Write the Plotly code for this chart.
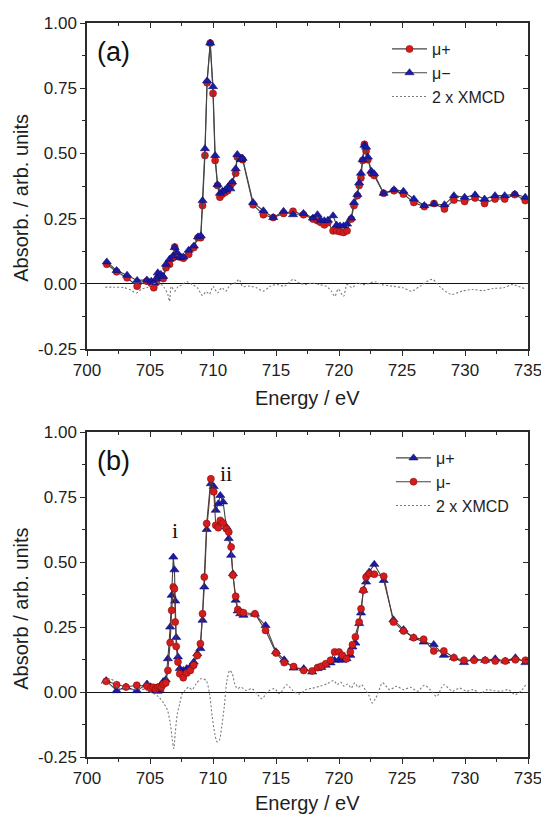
import plotly.graph_objects as go

# ---------------- Panel (a) ----------------
energy_a = [
    701.57, 702.35, 703.18, 703.98, 704.75, 705.10, 705.30, 705.50, 705.62, 705.86,
    706.05, 706.27, 706.55, 706.82, 706.96, 707.15, 707.38, 707.65, 708.07, 708.48,
    708.81, 709.03, 709.17, 709.36, 709.53, 709.78, 710.00, 710.17, 710.36, 710.55,
    710.75, 710.97, 711.16, 711.38, 711.52, 711.80, 711.93, 712.21, 712.35, 713.18,
    714.00, 714.78, 715.60, 716.35, 717.18, 717.93, 718.29, 718.56, 718.84, 719.12,
    719.53, 719.81, 720.08, 720.36, 720.64, 720.97, 721.19, 721.46, 721.60, 721.74,
    721.88, 722.02, 722.15, 722.29, 722.57, 722.79, 723.54, 724.36, 725.11, 725.94,
    726.77, 727.54, 728.37, 729.12, 729.97, 730.80, 731.55, 732.38, 733.15, 733.95,
    734.78,
]
mu_plus_a = [
    0.075, 0.046, 0.023, -0.009, 0.010, 0.002, -0.015, 0.005, 0.023, 0.030,
    0.020, 0.062, 0.075, 0.100, 0.141, 0.107, 0.103, 0.098, 0.113, 0.139,
    0.177, 0.177, 0.300, 0.492, 0.771, 0.923, 0.730, 0.473, 0.377, 0.332,
    0.344, 0.351, 0.357, 0.377, 0.386, 0.424, 0.486, 0.483, 0.476, 0.303,
    0.265, 0.254, 0.270, 0.278, 0.265, 0.248, 0.242, 0.235, 0.226, 0.235,
    0.203, 0.203, 0.200, 0.197, 0.203, 0.248, 0.300, 0.338, 0.377, 0.406,
    0.473, 0.535, 0.509, 0.476, 0.424, 0.415, 0.347, 0.357, 0.344, 0.312,
    0.296, 0.308, 0.287, 0.321, 0.316, 0.329, 0.308, 0.325, 0.325, 0.342,
    0.319,
]
mu_minus_a = [
    0.084, 0.051, 0.033, 0.013, 0.015, 0.010, 0.005, 0.020, 0.042, 0.036,
    0.028, 0.075, 0.094, 0.107, 0.139, 0.120, 0.100, 0.103, 0.129, 0.145,
    0.180, 0.184, 0.319, 0.518, 0.778, 0.923, 0.756, 0.492, 0.380, 0.347,
    0.355, 0.360, 0.370, 0.364, 0.390, 0.441, 0.496, 0.476, 0.481, 0.312,
    0.280, 0.254, 0.278, 0.265, 0.270, 0.252, 0.265, 0.244, 0.242, 0.244,
    0.261, 0.225, 0.222, 0.222, 0.229, 0.252, 0.312, 0.342, 0.387, 0.424,
    0.476, 0.531, 0.524, 0.486, 0.432, 0.422, 0.347, 0.361, 0.355, 0.325,
    0.300, 0.306, 0.303, 0.338, 0.332, 0.341, 0.325, 0.338, 0.338, 0.344,
    0.332,
]
xmcd_energy_a = [
    701.44, 702.13, 702.96, 703.51, 703.92, 704.34, 704.75, 705.17, 705.72, 706.13,
    706.41, 706.55, 706.69, 706.96, 707.24, 707.51, 707.93, 708.34, 708.76, 709.17,
    709.45, 709.72, 710.00, 710.36, 710.69, 711.02, 711.38, 711.80, 712.07, 712.35,
    712.90, 713.45, 714.00, 714.56, 715.11, 715.66, 716.35, 716.82, 717.32, 717.87,
    718.43, 718.98, 719.39, 719.67, 719.94, 720.36, 720.64, 721.05, 721.46, 721.88,
    722.29, 722.85, 723.40, 724.23, 725.06, 725.75, 726.44, 727.40, 728.09, 728.92,
    729.75, 730.58, 731.41, 732.24, 733.07, 733.76, 734.17, 734.72,
]
xmcd_a = [
    -0.013, -0.013, -0.015, -0.025, -0.035, -0.020, -0.015, -0.003, 0.004, -0.015,
    -0.040, -0.067, -0.010, -0.028, -0.010, -0.005, 0.008, -0.003, -0.015, -0.045,
    -0.030, -0.040, -0.010, -0.035, -0.015, -0.028, -0.003, 0.004, 0.017, -0.010,
    -0.009, -0.015, -0.028, -0.009, -0.003, -0.009, 0.017, 0.004, -0.003, 0.003,
    -0.003, -0.009, -0.028, -0.048, -0.020, -0.048, -0.003, -0.015, 0.004, -0.003,
    0.000, 0.008, -0.003, -0.009, -0.015, -0.028, -0.009, 0.017, -0.015, -0.041,
    -0.028, -0.022, -0.026, -0.018, -0.015, -0.003, -0.009, -0.018,
]

# ---------------- Panel (b) ----------------
energy_b = [
    701.52, 702.35, 703.10, 703.95, 704.76, 705.05, 705.25, 705.45, 705.60, 705.75,
    705.90, 706.05, 706.25, 706.42, 706.60, 706.72, 706.85, 706.94, 707.00, 707.08,
    707.22, 707.36, 707.64, 707.92, 708.20, 708.47, 708.75, 709.00, 709.17, 709.31,
    709.50, 709.83, 710.06, 710.22, 710.42, 710.58, 710.80, 711.06, 711.25, 711.44,
    711.58, 711.80, 711.97, 712.17, 712.42, 713.33, 714.17, 715.00, 715.65, 716.40,
    717.20, 717.87, 718.30, 718.60, 718.95, 719.33, 719.65, 720.00, 720.27, 720.60,
    720.90, 721.07, 721.30, 721.60, 721.75, 721.93, 722.15, 722.40, 722.80, 723.55,
    724.32, 725.12, 725.92, 726.72, 727.52, 728.32, 729.12, 729.92, 730.72, 731.60,
    732.40, 733.20, 734.00, 734.80,
]
mu_plus_b = [
    0.044, 0.005, 0.019, 0.005, 0.031, 0.020, 0.009, 0.005, 0.003, 0.010,
    0.028, 0.040, 0.047, 0.128, 0.250, 0.372, 0.519, 0.470, 0.350, 0.210,
    0.135, 0.090, 0.083, 0.090, 0.096, 0.115, 0.147, 0.167, 0.276, 0.404,
    0.625, 0.801, 0.790, 0.699, 0.724, 0.756, 0.731, 0.635, 0.590, 0.526,
    0.455, 0.353, 0.312, 0.301, 0.295, 0.299, 0.256, 0.155, 0.124, 0.092,
    0.090, 0.077, 0.090, 0.094, 0.103, 0.112, 0.122, 0.124, 0.122, 0.128,
    0.141, 0.173, 0.188, 0.263, 0.304, 0.391, 0.423, 0.462, 0.491, 0.429,
    0.278, 0.240, 0.209, 0.192, 0.183, 0.141, 0.132, 0.113, 0.128, 0.122,
    0.128, 0.119, 0.132, 0.113,
]
mu_minus_b = [
    0.041, 0.028, 0.019, 0.026, 0.022, 0.015, 0.018, 0.012, 0.018, 0.020,
    0.018, 0.030, 0.035, 0.083, 0.190, 0.314, 0.404, 0.397, 0.269, 0.175,
    0.115, 0.070, 0.055, 0.073, 0.083, 0.103, 0.140, 0.186, 0.301, 0.442,
    0.648, 0.820, 0.770, 0.641, 0.632, 0.660, 0.650, 0.628, 0.615, 0.558,
    0.449, 0.368, 0.317, 0.308, 0.305, 0.301, 0.237, 0.150, 0.113, 0.098,
    0.083, 0.081, 0.094, 0.099, 0.109, 0.122, 0.154, 0.154, 0.141, 0.128,
    0.154, 0.182, 0.212, 0.269, 0.320, 0.391, 0.442, 0.455, 0.453, 0.445,
    0.269, 0.235, 0.209, 0.203, 0.158, 0.158, 0.132, 0.122, 0.122, 0.122,
    0.119, 0.119, 0.124, 0.122,
]
xmcd_energy_b = [
    701.11, 701.81, 702.22, 702.50, 703.06, 703.61, 704.17, 704.72, 705.28, 705.69,
    706.11, 706.39, 706.61, 706.78, 706.89, 707.00, 707.17, 707.36, 707.56, 707.78,
    708.06, 708.33, 708.67, 709.03, 709.44, 709.72, 709.94, 710.14, 710.33, 710.50,
    710.69, 710.89, 711.11, 711.33, 711.53, 711.72, 711.94, 712.22, 712.64, 713.06,
    713.47, 713.89, 714.31, 714.86, 715.28, 715.85, 716.26, 716.81, 717.37, 717.92,
    718.48, 719.03, 719.58, 719.86, 720.14, 720.42, 720.69, 720.97, 721.25, 721.52,
    721.80, 722.08, 722.35, 722.63, 722.85, 723.05, 723.46, 724.02, 724.57, 725.12,
    725.68, 726.23, 726.79, 727.34, 727.76, 728.31, 729.00, 729.56, 730.11, 730.66,
    731.22, 731.77, 732.33, 732.88, 733.43, 733.99, 734.54, 734.82,
]
xmcd_b = [
    0.032, 0.051, 0.038, 0.013, 0.017, 0.009, 0.013, 0.006, -0.006, -0.019,
    -0.045, -0.070, -0.122, -0.186, -0.218, -0.160, -0.083, -0.045, -0.006, 0.006,
    0.019, 0.009, 0.032, 0.051, 0.045, -0.006, -0.096, -0.160, -0.192, -0.186,
    -0.135, -0.058, 0.045, 0.083, 0.071, 0.032, 0.013, 0.019, 0.006, 0.013,
    -0.006, -0.026, 0.000, 0.013, -0.006, 0.028, 0.009, -0.008, 0.009, 0.015,
    0.022, 0.031, 0.044, 0.028, 0.038, 0.022, 0.031, 0.015, 0.035, 0.018,
    0.028, 0.009, -0.010, -0.042, -0.029, -0.010, 0.035, 0.009, 0.022, 0.009,
    0.018, 0.003, 0.026, 0.003, -0.017, 0.028, 0.003, 0.015, 0.003, 0.009,
    -0.004, 0.009, 0.005, 0.003, 0.009, -0.010, 0.009, 0.028,
]

# ---------------- Axis ticks ----------------
x_ticks = [700, 705, 710, 715, 720, 725, 730, 735]
y_ticks = [-0.25, 0.0, 0.25, 0.5, 0.75, 1.0]
y_tick_labels = ["-0.25", "0.00", "0.25", "0.50", "0.75", "1.00"]

W, H = 541, 815
FONT = "Liberation Sans, Arial, Helvetica, sans-serif"
SERIF = "Liberation Serif, Times New Roman, serif"
AXIS_COLOR = "#2b2b2b"
TEXT_COLOR = "#1e1e1e"
RED = "#d41c1c"
BLUE = "#1a1aa6"
LINE_GREY = "#444444"
XMCD_GREY = "#7a7a7a"

x_dom = [87 / W, 528 / W]
y_dom_a = [1 - 349 / H, 1 - 23 / H]
y_dom_b = [1 - 757 / H, 1 - 432 / H]

red_marker = dict(symbol="circle", size=7, color=RED, line=dict(color="#8a0e0e", width=0.6))
blue_marker = dict(symbol="triangle-up", size=8, color=BLUE, line=dict(color="#0d0d6e", width=0.6))
xmcd_line = dict(color=XMCD_GREY, width=1.1, dash="2px,2px", shape="spline", smoothing=0.8)

fig = go.Figure()

# panel (a): mu+ red circles, mu- blue triangles
fig.add_trace(go.Scatter(x=energy_a, y=mu_plus_a, mode="lines+markers", name="\u03bc+",
                         line=dict(color=LINE_GREY, width=1.1), marker=red_marker,
                         xaxis="x", yaxis="y", legend="legend"))
fig.add_trace(go.Scatter(x=energy_a, y=mu_minus_a, mode="lines+markers", name="\u03bc\u2212",
                         line=dict(color=LINE_GREY, width=1.1), marker=blue_marker,
                         xaxis="x", yaxis="y", legend="legend"))
fig.add_trace(go.Scatter(x=xmcd_energy_a, y=xmcd_a, mode="lines", name="2 x XMCD",
                         line=xmcd_line, xaxis="x", yaxis="y", legend="legend"))

# panel (b): mu+ blue triangles, mu- red circles
fig.add_trace(go.Scatter(x=energy_b, y=mu_plus_b, mode="lines+markers", name="\u03bc+",
                         line=dict(color=LINE_GREY, width=1.1), marker=blue_marker,
                         xaxis="x2", yaxis="y2", legend="legend2"))
fig.add_trace(go.Scatter(x=energy_b, y=mu_minus_b, mode="lines+markers", name="\u03bc-",
                         line=dict(color="#5a3a3a", width=1.1), marker=red_marker,
                         xaxis="x2", yaxis="y2", legend="legend2"))
fig.add_trace(go.Scatter(x=xmcd_energy_b, y=xmcd_b, mode="lines", name="2 x XMCD",
                         line=xmcd_line, xaxis="x2", yaxis="y2", legend="legend2"))

# empty traces so the inward-ticked top/right axes are drawn
for xa, ya in [("x3", "y"), ("x", "y3"), ("x4", "y2"), ("x2", "y4")]:
    fig.add_trace(go.Scatter(x=[], y=[], xaxis=xa, yaxis=ya, showlegend=False, hoverinfo="skip"))

tick_font = dict(family=FONT, size=17, color=TEXT_COLOR)


def x_main(domain, anchor):
    return dict(domain=domain, anchor=anchor, range=[700, 735], tickmode="array", tickvals=x_ticks,
                ticks="outside", ticklen=5, tickwidth=1.2, tickcolor=AXIS_COLOR,
                minor=dict(tickmode="linear", tick0=700, dtick=2.5, ticks="outside", ticklen=3,
                           tickwidth=1.1, tickcolor=AXIS_COLOR),
                showline=True, linecolor=AXIS_COLOR, linewidth=1.5, mirror=True,
                showgrid=False, zeroline=False, tickfont=tick_font, ticklabeloverflow="allow",
                automargin=False, fixedrange=True)


def y_main(domain, anchor):
    return dict(domain=domain, anchor=anchor, range=[-0.25, 1.0], tickmode="array", tickvals=y_ticks,
                ticktext=y_tick_labels, ticks="outside", ticklen=5, tickwidth=1.2, tickcolor=AXIS_COLOR,
                minor=dict(tickmode="linear", tick0=0, dtick=0.125, ticks="outside", ticklen=3,
                           tickwidth=1.1, tickcolor=AXIS_COLOR),
                showline=True, linecolor=AXIS_COLOR, linewidth=1.5, mirror=True,
                showgrid=False, zeroline=True, zerolinecolor="#111111", zerolinewidth=1.4,
                tickfont=tick_font, ticklabeloverflow="allow", automargin=False, fixedrange=True)


def x_top(overlay, anchor):
    return dict(overlaying=overlay, anchor=anchor, side="top", range=[700, 735],
                tickmode="array", tickvals=x_ticks, ticks="inside", ticklen=5, tickwidth=1.2,
                tickcolor=AXIS_COLOR, showticklabels=False, showline=False, showgrid=False,
                zeroline=False,
                minor=dict(tickmode="linear", tick0=700, dtick=2.5, ticks="inside", ticklen=3,
                           tickwidth=1.1, tickcolor=AXIS_COLOR), fixedrange=True)


def y_right(overlay, anchor):
    return dict(overlaying=overlay, anchor=anchor, side="right", range=[-0.25, 1.0],
                tickmode="array", tickvals=y_ticks, ticks="inside", ticklen=5, tickwidth=1.2,
                tickcolor=AXIS_COLOR, showticklabels=False, showline=False, showgrid=False,
                zeroline=False,
                minor=dict(tickmode="linear", tick0=0, dtick=0.125, ticks="inside", ticklen=3,
                           tickwidth=1.1, tickcolor=AXIS_COLOR), fixedrange=True)


legend_common = dict(font=dict(family=FONT, size=16, color=TEXT_COLOR), bgcolor="rgba(0,0,0,0)",
                     borderwidth=0, xanchor="left", yanchor="top", tracegroupgap=0,
                     itemwidth=35, traceorder="normal")

title_font = dict(family=FONT, size=20, color=TEXT_COLOR)
annotations = [
    dict(text="(a)", x=700.6, y=0.89, xref="x", yref="y", xanchor="left", showarrow=False,
         font=dict(family=FONT, size=27, color="#111111")),
    dict(text="(b)", x=700.6, y=0.89, xref="x2", yref="y2", xanchor="left", showarrow=False,
         font=dict(family=FONT, size=27, color="#111111")),
    dict(text="i", x=707.0, y=0.62, xref="x2", yref="y2", xanchor="center", showarrow=False,
         font=dict(family=SERIF, size=22, color="#111111")),
    dict(text="ii", x=711.0, y=0.84, xref="x2", yref="y2", xanchor="center", showarrow=False,
         font=dict(family=SERIF, size=22, color="#111111")),
    dict(text="Energy / eV", x=(x_dom[0] + x_dom[1]) / 2, y=1 - 398 / H, xref="paper", yref="paper",
         xanchor="center", yanchor="middle", showarrow=False, font=title_font),
    dict(text="Energy / eV", x=(x_dom[0] + x_dom[1]) / 2, y=1 - 803 / H, xref="paper", yref="paper",
         xanchor="center", yanchor="middle", showarrow=False, font=title_font),
    dict(text="Absorb. / arb. units", x=21 / W, y=0.33, xref="paper", yref="y", textangle=-90,
         xanchor="center", yanchor="middle", showarrow=False, font=title_font),
    dict(text="Absorb / arb. units", x=21 / W, y=0.32, xref="paper", yref="y2", textangle=-90,
         xanchor="center", yanchor="middle", showarrow=False, font=title_font),
]

fig.update_layout(
    width=W, height=H,
    margin=dict(l=0, r=0, t=0, b=0),
    paper_bgcolor="white", plot_bgcolor="white",
    showlegend=True,
    xaxis=x_main(x_dom, "y"),
    yaxis=y_main(y_dom_a, "x"),
    xaxis2=x_main(x_dom, "y2"),
    yaxis2=y_main(y_dom_b, "x2"),
    xaxis3=x_top("x", "y"),
    yaxis3=y_right("y", "x"),
    xaxis4=x_top("x2", "y2"),
    yaxis4=y_right("y2", "x2"),
    legend=dict(x=387 / W, y=1 - 32 / H, **legend_common),
    legend2=dict(x=391 / W, y=1 - 441 / H, **legend_common),
    annotations=annotations,
)

fig.write_html("out.html")
